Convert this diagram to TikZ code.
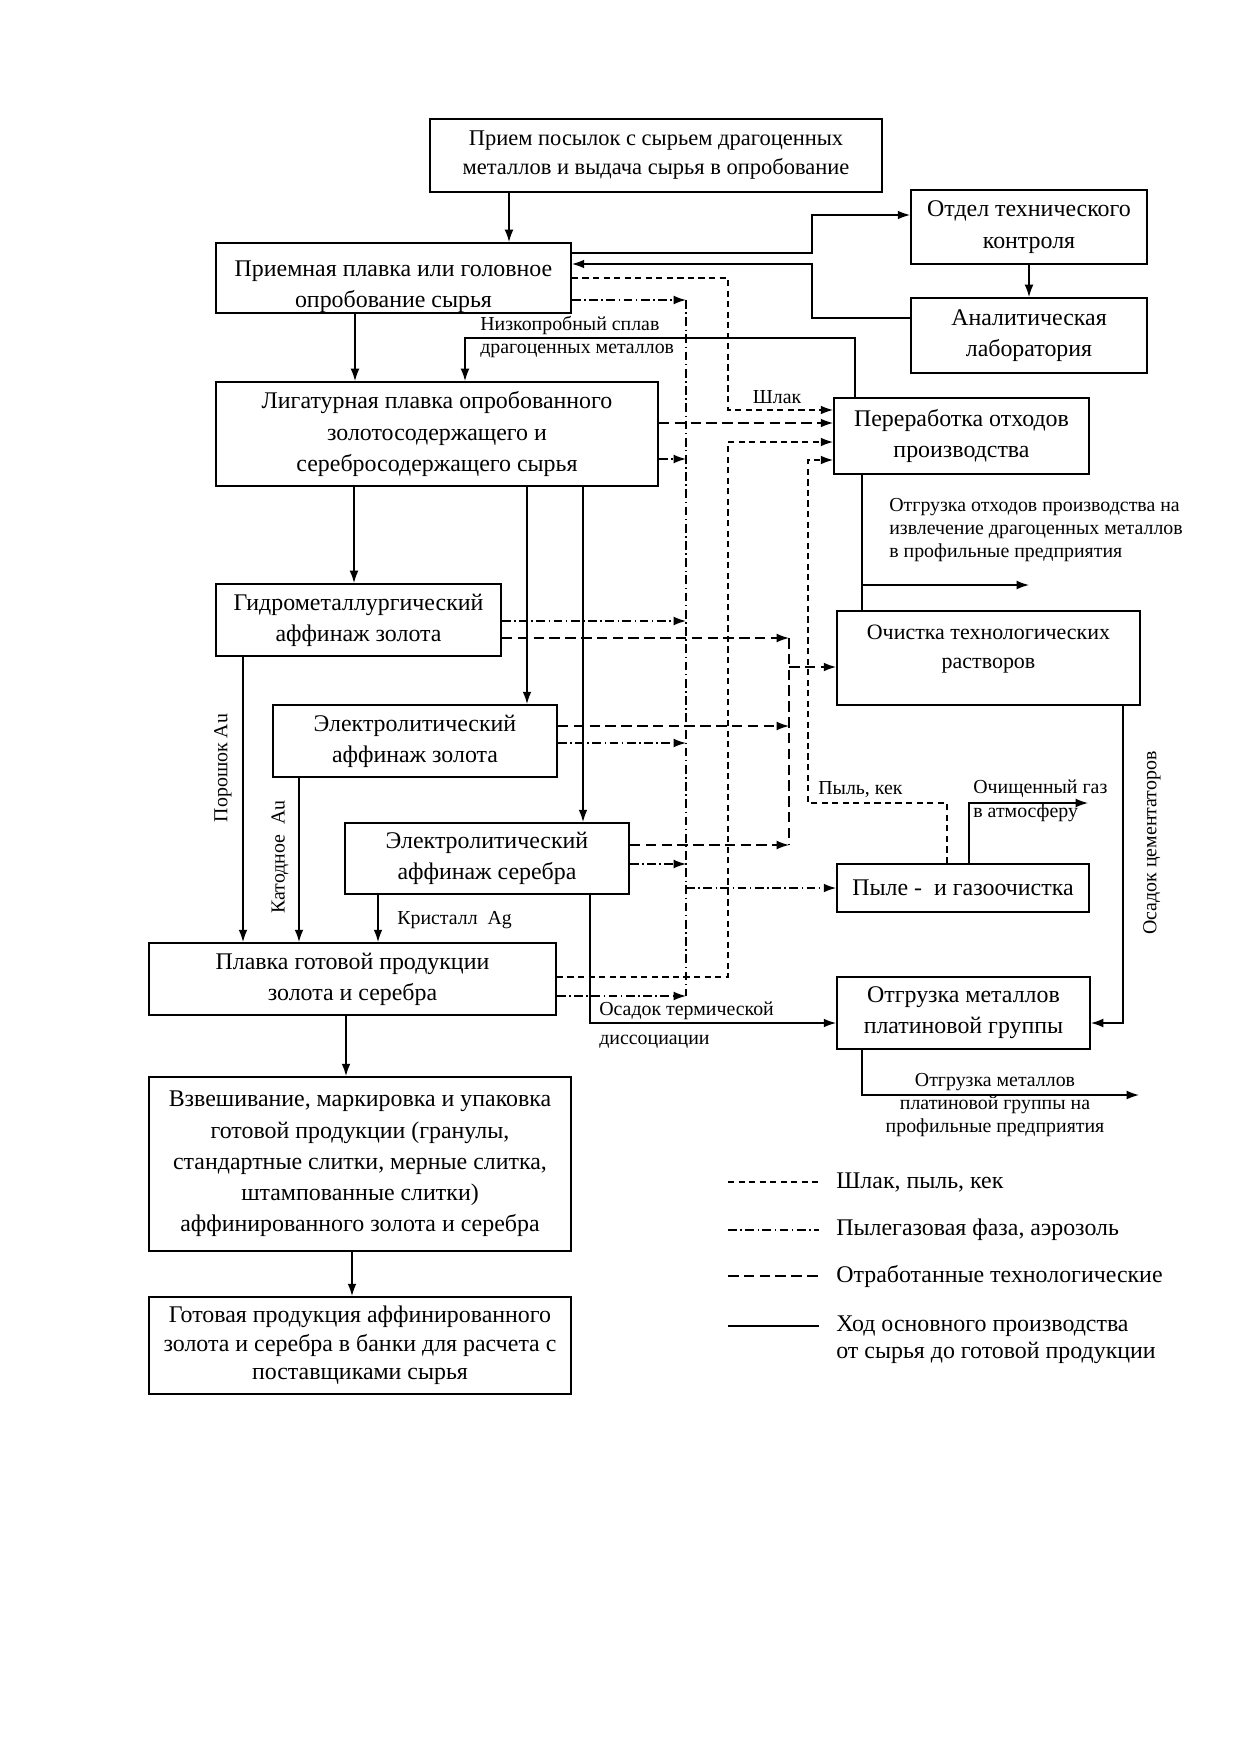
\documentclass[tikz,border=0pt]{standalone}
\usepackage{fontspec}
\setmainfont{Liberation Serif}
\usetikzlibrary{arrows.meta}

\begin{document}
\begin{tikzpicture}[
    x=0.02cm, y=-0.02cm,
    box/.style={rectangle, draw, line width=1.1pt, inner sep=0pt, align=center, font=\fontsize{13.6}{17.8}\selectfont},
    lbl/.style={inner sep=0pt, font=\fontsize{11.3}{13.3}\selectfont},
    leg/.style={inner sep=0pt, anchor=west, align=left, font=\fontsize{13.6}{15.5}\selectfont},
    arrow/.style={-{Latex[length=7pt,width=5pt]}, line width=0.8pt},
    solid line/.style={line width=0.8pt},
    shlak/.style={line width=0.7pt, dash pattern=on 3.5pt off 2.5pt},
    gaz/.style={line width=0.7pt, dash pattern=on 5pt off 2pt on 0.8pt off 2pt},
    rastvor/.style={line width=1pt, dash pattern=on 6pt off 3pt}
]
    \useasboundingbox (0,0) rectangle (1240,1754);

    % boxes
    \node[box, minimum width=9.04cm, minimum height=1.46cm, font=\fontsize{12.8}{16.5}\selectfont] (priem) at (656,155.5) {Прием посылок с сырьем драгоценных\\металлов и выдача сырья в опробование};
    \node[box, minimum width=7.1cm, minimum height=1.4cm] (golov) at (393.5,278) {\raisebox{-4.5pt}[\height][\depth]{\begin{tabular}{@{}c@{}}Приемная плавка или головное\\опробование сырья\end{tabular}}};
    \node[box, minimum width=8.84cm, minimum height=2.08cm] (ligat) at (437,434) {Лигатурная плавка опробованного\\золотосодержащего и\\серебросодержащего сырья};
    \node[box, minimum width=4.72cm, minimum height=1.48cm] (otk) at (1029,227) {Отдел технического\\контроля};
    \node[box, minimum width=4.72cm, minimum height=1.5cm] (lab) at (1029,335.5) {Аналитическая\\лаборатория};
    \node[box, minimum width=5.1cm, minimum height=1.52cm] (pererab) at (961.5,436) {Переработка отходов\\производства};
    \node[box, minimum width=5.7cm, minimum height=1.44cm] (gidro) at (358.5,620) {Гидрометаллургический\\аффинаж золота};
    \node[box, minimum width=6.06cm, minimum height=1.88cm, font=\fontsize{12.5}{16.5}\selectfont] (ochist) at (988.5,658) {Очистка технологических\\растворов\\[-4pt]\mbox{}};
    \node[box, minimum width=5.68cm, minimum height=1.44cm] (elzol) at (415,741) {Электролитический\\аффинаж золота};
    \node[box, minimum width=5.68cm, minimum height=1.42cm] (elser) at (487,858.5) {Электролитический\\аффинаж серебра};
    \node[box, minimum width=5.04cm, minimum height=0.96cm] (pyle) at (963,888) {Пыле -\ \ и газоочистка};
    \node[box, minimum width=8.14cm, minimum height=1.44cm] (plavka) at (352.5,979) {Плавка готовой продукции\\золота и серебра};
    \node[box, minimum width=5.06cm, minimum height=1.44cm] (otgr) at (963.5,1013) {Отгрузка металлов\\платиновой группы};
    \node[box, minimum width=8.44cm, minimum height=3.48cm] (vzves) at (360,1164) {Взвешивание, маркировка и упаковка\\готовой продукции (гранулы,\\стандартные слитки, мерные слитка,\\штампованные слитки)\\аффинированного золота и серебра};
    \node[box, minimum width=8.44cm, minimum height=1.94cm, font=\fontsize{13.6}{16.3}\selectfont] (gotov) at (360,1345.5) {Готовая продукция аффинированного\\золота и серебра в банки для расчета с\\поставщиками сырья};

    % labels
    \node[lbl, anchor=west, align=left] (lnizk) at (480,337) {Низкопробный сплав\\драгоценных металлов};
    \node[lbl] (lshlak) at (777,397) {Шлак};
    \node[lbl, anchor=west, align=left] (lotgr) at (889,530) {Отгрузка отходов производства на\\извлечение драгоценных металлов\\в профильные предприятия};
    \node[lbl, anchor=west] (lpyl) at (818,790) {Пыль, кек};
    \node[lbl, anchor=west, align=left] (lgaz) at (973,801) {Очищенный газ\\в атмосферу};
    \node[lbl, rotate=90] (lporosh) at (223,768) {Порошок Au};
    \node[lbl, rotate=90] (lkatod) at (280,857) {Катодное\ \ Au};
    \node[lbl, anchor=west] (lkrist) at (397,920) {Кристалл\ \ Ag};
    \node[lbl, anchor=west, align=left] (losadok) at (599,1025) {Осадок термической\\[3pt]диссоциации};
    \node[lbl, rotate=90] (lcement) at (1152,843) {Осадок цементаторов};
    \node[lbl, align=center] (lplat) at (995,1105) {Отгрузка металлов\\платиновой группы на\\профильные предприятия};

    % junctions
    \coordinate (ab) at (509,0);
    \coordinate (bc) at (355,0);
    \coordinate (v1) at (354,0);
    \coordinate (v2) at (527,0);
    \coordinate (v3) at (583,0);
    \coordinate (v4) at (243,0);
    \coordinate (v5) at (299,0);
    \coordinate (v6) at (378,0);
    \coordinate (v7) at (346,0);
    \coordinate (v8) at (352,0);
    \coordinate (n1) at (855,338);
    \coordinate (n2) at (465,338);
    \coordinate (t1) at (812,253);
    \coordinate (t2) at (812,215);
    \coordinate (t3) at (812,318);
    \coordinate (t4) at (812,264);
    \coordinate (o1) at (862,585);
    \coordinate (o2) at (1029,585);
    \coordinate (d1) at (590,1023);
    \coordinate (d2) at (1123,1023);
    \coordinate (a1) at (969,803);
    \coordinate (a2) at (1088,803);
    \coordinate (m1) at (862,1095);
    \coordinate (m2) at (1139,1095);
    \coordinate (g1) at (686,300);
    \coordinate (g2) at (686,459);
    \coordinate (g3) at (686,621);
    \coordinate (g4) at (686,743);
    \coordinate (g5) at (686,864);
    \coordinate (g6) at (686,888);
    \coordinate (g7) at (686,996);
    \coordinate (r0) at (700,423);
    \coordinate (r1) at (789,638);
    \coordinate (r2) at (789,667);
    \coordinate (r3) at (789,726);
    \coordinate (r4) at (789,845);
    \coordinate (s1) at (728,278);
    \coordinate (s2) at (728,410);
    \coordinate (s3) at (728,977);
    \coordinate (s4) at (728,442);
    \coordinate (s5) at (947,803);
    \coordinate (s6) at (808,803);
    \coordinate (s7) at (808,460);

    % main flow
    \draw[arrow] (priem.south -| ab) -- (golov.north -| ab);
    \draw[arrow] (golov.south -| bc) -- (ligat.north -| bc);
    \draw[arrow] (golov.east |- t1) -- (t1) -- (t2) -- (otk.west |- t2);
    \draw[arrow] (otk) -- (lab);
    \draw[arrow] (lab.west |- t3) -- (t3) -- (t4) -- (golov.east |- t4);
    \draw[arrow] (pererab.north -| n1) -- (n1) -- (n2) -- (ligat.north -| n2);
    \draw[arrow] (ligat.south -| v1) -- (gidro.north -| v1);
    \draw[arrow] (ligat.south -| v2) -- (elzol.north -| v2);
    \draw[arrow] (ligat.south -| v3) -- (elser.north -| v3);
    \draw[arrow] (gidro.south -| v4) -- (plavka.north -| v4);
    \draw[arrow] (elzol.south -| v5) -- (plavka.north -| v5);
    \draw[arrow] (elser.south -| v6) -- (plavka.north -| v6);
    \draw[arrow] (plavka.south -| v7) -- (vzves.north -| v7);
    \draw[arrow] (vzves.south -| v8) -- (gotov.north -| v8);
    \draw[solid line] (pererab.south -| o1) -- (ochist.north -| o1);
    \draw[arrow] (o1) -- (o2);
    \draw[arrow] (elser.south -| d1) -- (d1) -- (otgr.west |- d1);
    \draw[arrow] (ochist.south -| d2) -- (d2) -- (otgr.east |- d2);
    \draw[arrow] (pyle.north -| a1) -- (a1) -- (a2);
    \draw[arrow] (otgr.south -| m1) -- (m1) -- (m2);

    % dust and gas phase
    \draw[gaz] (g1) -- (g7);
    \draw[gaz, arrow] (golov.east |- g1) -- (g1);
    \draw[gaz, arrow] (ligat.east |- g2) -- (g2);
    \draw[gaz, arrow] (gidro.east |- g3) -- (g3);
    \draw[gaz, arrow] (elzol.east |- g4) -- (g4);
    \draw[gaz, arrow] (elser.east |- g5) -- (g5);
    \draw[gaz, arrow] (plavka.east |- g7) -- (g7);
    \draw[gaz, arrow] (g6) -- (pyle.west);

    % spent solutions
    \draw[rastvor] (r1) -- (r4);
    \draw[rastvor, arrow] (ligat.east |- r0) -- (pererab.west |- r0);
    \draw[rastvor, arrow] (gidro.east |- r1) -- (r1);
    \draw[rastvor, arrow] (elzol.east |- r3) -- (r3);
    \draw[rastvor, arrow] (elser.east |- r4) -- (r4);
    \draw[rastvor, arrow] (r2) -- (ochist.west |- r2);

    % slag, dust, cake
    \draw[shlak, arrow] (golov.east |- s1) -- (s1) -- (s2) -- (pererab.west |- s2);
    \draw[shlak, arrow] (plavka.east |- s3) -- (s3) -- (s4) -- (pererab.west |- s4);
    \draw[shlak, arrow] (pyle.north -| s5) -- (s5) -- (s6) -- (s7) -- (pererab.west |- s7);

    % legend
    \coordinate (lg1) at (728,1182);
    \coordinate (lg2) at (728,1230);
    \coordinate (lg3) at (728,1276);
    \coordinate (lg4) at (728,1326);
    \draw[shlak] (lg1) -- ++(91,0);
    \draw[gaz] (lg2) -- ++(91,0);
    \draw[rastvor] (lg3) -- ++(91,0);
    \draw[solid line] (lg4) -- ++(91,0);
    \node[leg] (leg1) at (836,1182) {Шлак, пыль, кек};
    \node[leg] (leg2) at (836,1230) {Пылегазовая фаза, аэрозоль};
    \node[leg] (leg3) at (836,1276) {Отработанные технологические};
    \node[leg, anchor=north west] (leg4) at (836,1315) {Ход основного производства\\от сырья до готовой продукции};
\end{tikzpicture}
\end{document}
